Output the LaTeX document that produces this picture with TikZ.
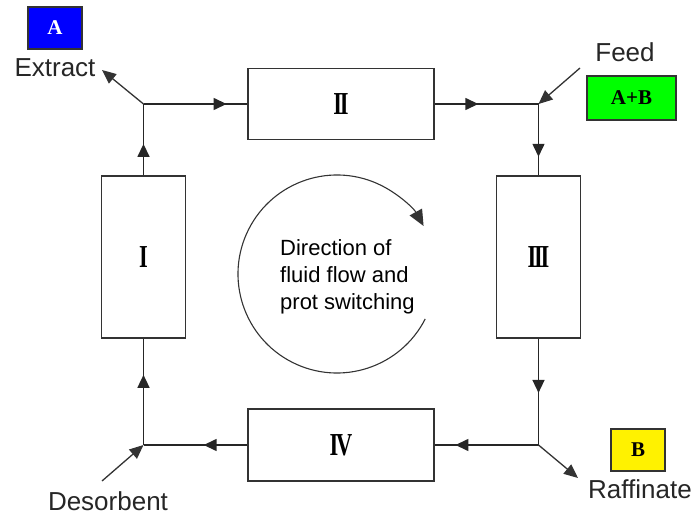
\documentclass[tikz,border=0pt]{standalone}
\usepackage{fontspec}
\setmainfont{Liberation Serif}
\setsansfont{Liberation Sans}
\usetikzlibrary{arrows.meta,decorations.markings}
\newcommand{\colnum}[1]{\scalebox{0.7}[1]{#1}}

\begin{document}
\begin{tikzpicture}[
    x=1pt, y=-1pt,
    col/.style={draw=black!80, line width=1.4pt, fill=white, inner sep=0pt,
      font=\bfseries\fontsize{32}{36}\selectfont},
    flow/.style={line width=1.5pt, black!85, postaction={decorate},
      decoration={markings, mark=at position #1 with {\arrow{Triangle[length=13pt,width=12pt]}}}},
    port/.style={line width=1.3pt, black!80, -{Triangle[length=14pt,width=12pt]}},
    lbl/.style={font=\sffamily\fontsize{26}{30}\selectfont, black!85, inner sep=0pt},
    tag/.style={draw=black!80, line width=1.2pt, minimum width=54pt, minimum height=42pt,
      inner sep=0pt, font=\bfseries\fontsize{21}{24}\selectfont},
]
\useasboundingbox (0,0) rectangle (697,516);

% columns
\node[col, minimum width=84pt, minimum height=162pt] (colI) at (143.5,257) {\colnum{I}};
\node[col, minimum width=186pt, minimum height=71pt] (colII) at (341,104) {\colnum{I\kern-.1em I}};
\node[col, minimum width=84pt, minimum height=162pt] (colIII) at (538.5,257) {\colnum{I\kern-.1em I\kern-.1em I}};
\node[col, minimum width=186pt, minimum height=72pt] (colIV) at (341,445) {\colnum{I\kern-.1em V}};

\coordinate (j1) at (143.5,104);
\coordinate (j2) at (538.5,104);
\coordinate (j3) at (538.5,445);
\coordinate (j4) at (143.5,445);

% loop
\draw[flow=0.80] (j1) -- (colII.west);
\draw[flow=0.42] (colII.east) -- (j2);
\draw[flow=0.74] (j2) -- (colIII.north);
\draw[flow=0.51] (colIII.south) -- (j3);
\draw[flow=0.80] (j3) -- (colIV.east);
\draw[flow=0.42] (colIV.west) -- (j4);
\draw[flow=0.66] (j4) -- (colI.south);
\draw[flow=0.44] (colI.north) -- (j1);

% inlets and outlets
\coordinate (extEnd) at (102,70);
\coordinate (feedSrc) at (580,68);
\coordinate (rafEnd) at (578,478);
\coordinate (desSrc) at (102,481);
\draw[port] (j1) -- (extEnd);
\draw[port] (feedSrc) -- (j2);
\draw[port] (j3) -- (rafEnd);
\draw[port] (desSrc) -- (j4);

\node[lbl] (extract) at (55,68) {Extract};
\node[lbl] (feed) at (625,52) {Feed};
\node[lbl] (raffinate) at (640,489) {Raffinate};
\node[lbl] (desorbent) at (108,501) {Desorbent};

\node[tag, fill=blue, text=white] (tagA) at (55,28) {A};
\node[tag, fill=green, minimum width=89pt, minimum height=44pt] (tagAB) at (631.5,98) {A+B};
\node[tag, fill=yellow] (tagB) at (638,450) {B};

% switching direction
\coordinate (ring) at (337,274);
\draw[line width=1.1pt, black!80, -{Triangle[length=16pt,width=14pt]}]
  ([shift={(27:99)}]ring) arc[start angle=27, end angle=331, radius=99];
\node[font=\sffamily\fontsize{22}{27}\selectfont, align=left, anchor=north west,
  inner sep=0pt] (ringtxt) at (280,239) {Direction of\\fluid flow and\\prot switching};
\end{tikzpicture}
\end{document}
